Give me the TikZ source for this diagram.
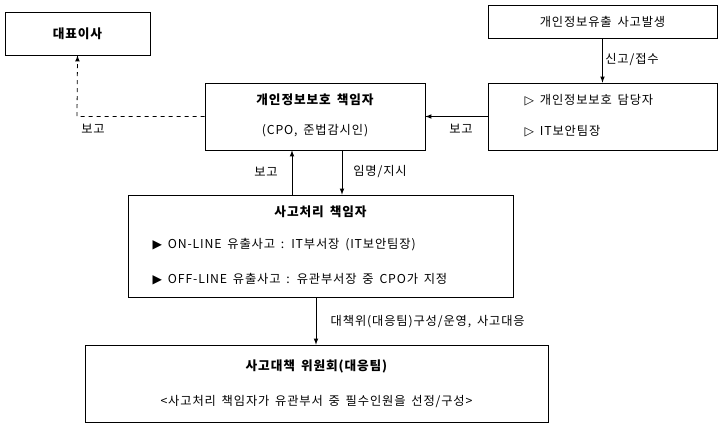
\documentclass[tikz,border=0pt]{standalone}
\usepackage{fontspec}
\setmainfont[LetterSpace=7,WordSpace=1.6]{Noto Sans CJK KR}
\newfontfamily\symfont{DejaVu Sans}
\usetikzlibrary{calc,positioning}
\tikzset{box/.style={draw,line width=0.5pt,inner sep=0pt},
         lbl/.style={font=\fontsize{9.2}{11}\selectfont},
         txt/.style={font=\fontsize{9.2}{11}\selectfont,anchor=west},
         ttl/.style={font=\bfseries\fontsize{9.5}{11}\selectfont},
         arr/.style={-latex,line width=0.6pt}}
\begin{document}
\begin{tikzpicture}[x=0.75pt,y=-0.75pt]
\useasboundingbox (0,0) rectangle (722,427);
% boxes
\node[box,minimum width=145*0.75pt,minimum height=43*0.75pt] (CEO) at (77.5,33.5) {};
\node[ttl] at (CEO) {대표이사};
\node[box,minimum width=229*0.75pt,minimum height=33*0.75pt] (Leak) at (602.5,21.5) {};
\node[lbl] at (Leak) {개인정보유출 사고발생};
\node[box,minimum width=220*0.75pt,minimum height=67*0.75pt] (CPO) at (315,116.5) {};
\node[ttl] at (315,100) {개인정보보호 책임자};
\node[lbl] at (315,131) {(CPO, 준법감시인)};
\node[box,minimum width=229*0.75pt,minimum height=67*0.75pt] (Staff) at (602.5,116.5) {};
\node[txt] at (520,100) {{\symfont ▷} 개인정보보호 담당자};
\node[txt] at (520,131) {{\symfont ▷} IT보안팀장};
\node[box,minimum width=385*0.75pt,minimum height=102*0.75pt] (Handler) at (320.5,246) {};
\node[ttl] at (320.5,212) {사고처리 책임자};
\node[txt] at (148,245) {{\symfont ▶} ON-LINE 유출사고 : IT부서장 (IT보안팀장)};
\node[txt] at (148,279) {{\symfont ▶} OFF-LINE 유출사고 : 유관부서장 중 CPO가 지정};
\node[box,minimum width=463*0.75pt,minimum height=77*0.75pt] (Team) at (316.5,383.5) {};
\node[ttl] at (316.5,366) {사고대책 위원회(대응팀)};
\node[lbl] at (316.5,402) {<사고처리 책임자가 유관부서 중 필수인원을 선정/구성>};
% connectors
\coordinate (Bend) at (77,116.5);
\draw[arr,dashed] (CPO.west) -- (Bend) -- (CEO.south);
\node[lbl] at (93,129) {보고};
\draw[arr] (Leak.south) -- (Staff.north);
\node[lbl] at (632,60) {신고/접수};
\draw[arr] (Staff.west) -- (CPO.east);
\node[lbl] at (461,129) {보고};
\draw[arr] (Handler.north -| 292,0) -- (CPO.south -| 292,0);
\node[lbl] at (266,172) {보고};
\draw[arr] (CPO.south -| 342,0) -- (Handler.north -| 342,0);
\node[lbl] at (380,172) {임명/지시};
\draw[arr] (Handler.south -| 316,0) -- (Team.north -| 316,0);
\node[lbl,anchor=west] at (326,322) {대책위(대응팀)구성/운영, 사고대응};
\end{tikzpicture}
\end{document}
